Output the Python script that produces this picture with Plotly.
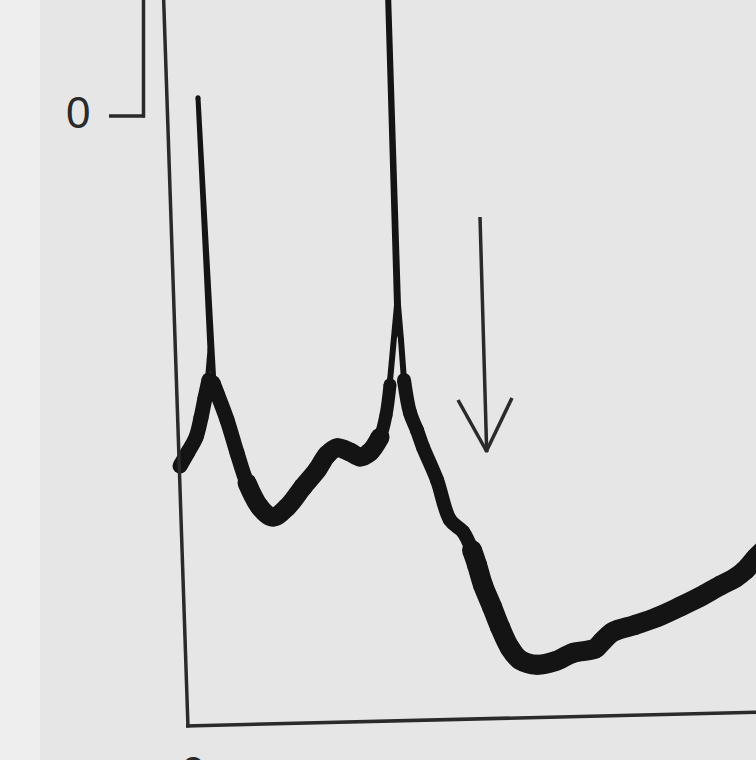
import plotly.graph_objects as go

W, H = 756, 760

# ---- spectrum trace (arbitrary units) ----
# x: position along the abscissa, y: signal height above the frame bottom
rise_x = [0.8, 2.4, 4.0, 5.0, 5.8, 6.6]
rise_y = [36.0, 38.0, 40.1, 42.9, 45.7, 48.3]

peak1_x = [6.2, 6.8, 4.4, 7.0, 7.6]
peak1_y = [47.6, 52.6, 88.6, 52.6, 47.6]

fall1_x = [7.4, 8.2, 10.2, 12.2, 14.2, 16.8]
fall1_y = [47.9, 46.4, 42.6, 37.9, 33.6, 30.1]

valley_x = [14.2, 16.8, 19.4, 22.2, 25.4, 28.2, 30.2, 32.2, 34.8, 36.8, 38.8, 40.8]
valley_y = [33.6, 30.1, 28.7, 30.1, 33.0, 35.4, 37.6, 38.6, 38.0, 37.3, 38.0, 40.1]

rise2_x = [38.8, 40.8, 42.0, 42.8]
rise2_y = [38.0, 40.1, 43.3, 47.6]

peak2_x = [42.6, 42.8, 43.8, 44.2, 42.4, 44.4, 45.0, 45.6, 46.2]
peak2_y = [46.6, 48.3, 54.7, 59.0, 103.6, 59.0, 54.0, 48.3, 46.1]

fall2_x = [45.6, 46.8, 48.2, 49.4, 52.2, 54.8, 57.4, 59.2, 60.2]
fall2_y = [48.3, 43.6, 41.1, 38.7, 34.0, 28.3, 26.6, 24.0, 21.9]

trough_x = [59.2, 60.2, 61.4, 63.2, 64.8, 66.8, 68.8, 72.2, 75.8, 79.4, 83.8,
            85.2, 87.4, 91.8, 96.2, 100.8, 104.8, 108.8, 111.8, 113.8, 116.0, 118.0]
trough_y = [24.0, 21.9, 19.0, 15.9, 13.0, 10.0, 8.3, 7.6, 8.1, 9.3, 9.9,
            10.9, 12.3, 13.3, 14.4, 15.9, 17.3, 18.9, 20.0, 21.1, 22.9, 24.3]

scale_label = "0"
bottom_label = "0"

INK = "#141414"
FRAME = "#2a2a2a"

# (x, y, pen width, line shape)
segments = [
    (rise_x, rise_y, 15, "spline"),
    (peak1_x, peak1_y, 5, "linear"),
    (fall1_x, fall1_y, 15, "spline"),
    (valley_x, valley_y, 19, "spline"),
    (rise2_x, rise2_y, 13, "spline"),
    (peak2_x, peak2_y, 6, "linear"),
    (fall2_x, fall2_y, 14, "spline"),
    (trough_x, trough_y, 20, "spline"),
]

fig = go.Figure()
for xs, ys, w, shp in segments:
    kw = dict(color=INK, width=w, shape=shp)
    if shp == "spline":
        kw["smoothing"] = 1.0
    fig.add_trace(go.Scatter(
        x=xs, y=ys, mode="lines+markers",
        line=kw,
        # round "pen" joints so the segments blend like an inked trace
        marker=dict(size=w, color=INK, line=dict(width=0)),
        hoverinfo="skip", showlegend=False,
    ))


def P(px, py):
    return px / W, 1 - py / H


def seg(p0, p1, width=3.5, color=FRAME):
    x0, y0 = P(*p0)
    x1, y1 = P(*p1)
    return dict(type="line", xref="paper", yref="paper", x0=x0, y0=y0, x1=x1, y1=y1,
                line=dict(color=color, width=width), layer="above")


sx0, _ = P(40, 0)
shapes = [
    # lighter strip at the left edge of the scan
    dict(type="rect", xref="paper", yref="paper", x0=0, x1=sx0, y0=0, y1=1,
         fillcolor="#eeeeee", line=dict(width=0), layer="below"),
    # frame
    seg((163.5, -5), (188, 727.5)),
    seg((186, 726), (762, 712)),
    # zero bracket
    seg((143.5, -5), (143.5, 117.5), width=3.5),
    seg((109, 116), (145, 116), width=3.5),
    # arrow
    seg((480, 217), (486.7, 452), width=3.5),
    seg((458, 400), (487, 452), width=3.5),
    seg((512, 398), (486, 452), width=3.5),
]

ax, ay = P(78, 113)
bx, by = P(193, 772)
annotations = [
    dict(text=scale_label, xref="paper", yref="paper", x=ax, y=ay, showarrow=False,
         xanchor="center", yanchor="middle",
         font=dict(family="Liberation Sans, Arial, sans-serif", size=44, color="#2a2a2a")),
    dict(text=bottom_label, xref="paper", yref="paper", x=bx, y=by, showarrow=False,
         xanchor="center", yanchor="middle",
         font=dict(family="Liberation Sans, Arial, sans-serif", size=44, color="#2a2a2a")),
]

fig.update_layout(
    width=W, height=H,
    margin=dict(l=0, r=0, t=0, b=0),
    paper_bgcolor="#e6e6e6",
    plot_bgcolor="rgba(0,0,0,0)",
    xaxis=dict(range=[-35.2, 116.0], visible=False, fixedrange=True),
    yaxis=dict(range=[-6.0, 102.571], visible=False, fixedrange=True),
    shapes=shapes,
    annotations=annotations,
    showlegend=False,
    hovermode=False,
)

fig.write_html(
    "out.html",
    config={"displayModeBar": False, "staticPlot": True},
    post_script="document.body.style.margin='0';document.body.style.overflow='hidden';",
)
